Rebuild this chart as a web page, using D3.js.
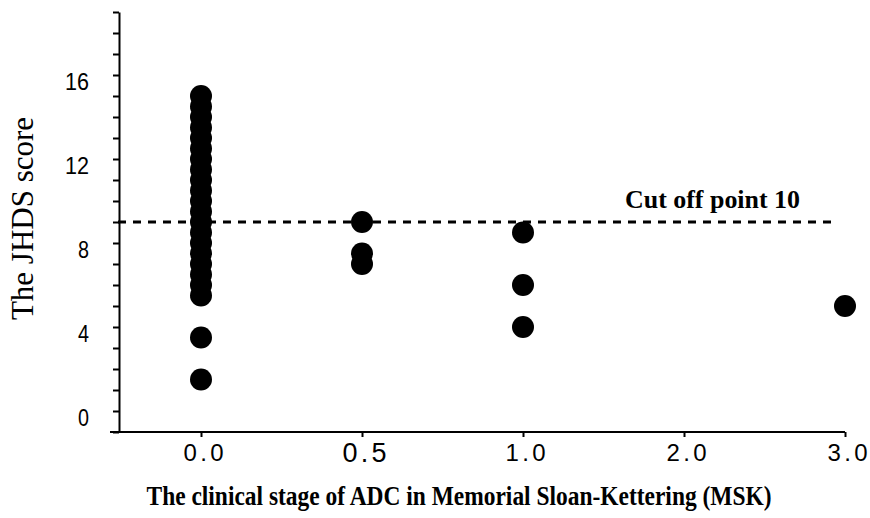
<!DOCTYPE html>
<html>
<head>
<meta charset="utf-8">
<script src="https://cdn.jsdelivr.net/npm/d3@7/dist/d3.min.js"></script>
<style>
  html, body { margin: 0; padding: 0; background: #fff; }
  svg { display: block; }
</style>
</head>
<body>
<svg id="chart" width="870" height="518"></svg>
<script>
// ---- data ----
const categories = ["0.0", "0.5", "1.0", "2.0", "3.0"];
const stage00Scores = [16, 15.5, 15, 14.5, 14, 13.5, 13, 12.5, 12, 11.5, 11, 10.5, 10, 9.5, 9, 8.5, 8, 7.5, 7, 6.5, 4.5, 2.5];
const stage05Scores = [10, 8.5, 8];
const stage10Scores = [9.5, 7, 5];
const stage20Scores = [];
const stage30Scores = [6];
const yTicks = [0, 1, 2, 3, 4, 5, 6, 7, 8, 9, 10, 11, 12, 13, 14, 15, 16, 17, 18, 19, 20];
const yTickLabels = [0, 4, 8, 12, 16];
const cutOff = 10;
const cutOffLabel = "Cut off point 10";
const xTitle = "The clinical stage of ADC in Memorial Sloan-Kettering (MSK)";
const yTitle = "The JHDS score";

const points = [];
[[categories[0], stage00Scores], [categories[1], stage05Scores], [categories[2], stage10Scores],
 [categories[3], stage20Scores], [categories[4], stage30Scores]].forEach(([c, arr]) => {
  arr.forEach(v => points.push({ stage: c, score: v }));
});

// ---- layout ----
const axisX = 119, axisBottom = 432, axisTop = 12, xAxisLeft = 110, xAxisRight = 845;
const svg = d3.select("#chart");
svg.append("rect").attr("width", 870).attr("height", 518).attr("fill", "#fff");

const x = d3.scalePoint().domain(categories).range([201, 845]);
const y = d3.scaleLinear().domain([0, 20]).range([axisBottom, axisTop]);

const tickFont = "'Liberation Sans Narrow', 'Liberation Sans', 'DejaVu Sans', sans-serif";

// Y axis
const yAxis = svg.append("g").attr("transform", `translate(${axisX},0)`)
  .call(d3.axisLeft(y).tickValues(yTicks).tickSize(6).tickSizeOuter(0)
    .tickFormat(d => yTickLabels.includes(d) ? d : ""));
yAxis.select(".domain").attr("stroke", "#000").attr("stroke-width", 2);
yAxis.selectAll(".tick line").attr("stroke", "#000").attr("stroke-width", 2);
yAxis.selectAll(".tick text")
  .attr("x", -30).attr("dy", "-0.27em")
  .attr("font-family", tickFont).attr("font-size", 24).attr("fill", "#000")
  .each(function(d) {
    const s = String(d);
    if (s.length) d3.select(this).attr("textLength", s.length === 1 ? 11 : 24).attr("lengthAdjust", "spacingAndGlyphs");
  });

// X axis
const xAxis = svg.append("g").attr("transform", `translate(0,${axisBottom})`)
  .call(d3.axisBottom(x).tickSize(5).tickSizeOuter(0));
xAxis.select(".domain").remove();
xAxis.append("line").attr("x1", xAxisLeft).attr("x2", xAxisRight).attr("y1", 0).attr("y2", 0)
  .attr("stroke", "#000").attr("stroke-width", 2);
xAxis.selectAll(".tick line").attr("stroke", "#000").attr("stroke-width", 2);
xAxis.selectAll(".tick text")
  .attr("y", d => d === "0.5" ? 30 : 28.5).attr("dy", 0).attr("dx", 2)
  .attr("font-family", tickFont).attr("font-size", d => d === "0.5" ? 27 : 24)
  .attr("fill", "#000")
  .attr("textLength", d => d === "0.5" ? 44 : 40).attr("lengthAdjust", "spacing");

// Cut off line
svg.append("line")
  .attr("x1", 118).attr("x2", 837)
  .attr("y1", y(cutOff)).attr("y2", y(cutOff))
  .attr("stroke", "#000").attr("stroke-width", 3).attr("stroke-dasharray", "8,7");
svg.append("text")
  .attr("x", 625).attr("y", y(cutOff) - 14)
  .attr("font-family", "'Liberation Serif', 'Times New Roman', serif")
  .attr("font-weight", "bold").attr("font-size", 25)
  .attr("textLength", 175).attr("lengthAdjust", "spacingAndGlyphs")
  .text(cutOffLabel);

// Points
svg.append("g").selectAll("circle").data(points).join("circle")
  .attr("cx", d => x(d.stage)).attr("cy", d => y(d.score))
  .attr("r", 11).attr("fill", "#000");

// Titles
svg.append("text")
  .attr("x", 459).attr("y", 505).attr("text-anchor", "middle")
  .attr("font-family", "'Liberation Serif', 'Times New Roman', serif")
  .attr("font-weight", "bold").attr("font-size", 27)
  .attr("textLength", 625).attr("lengthAdjust", "spacingAndGlyphs")
  .text(xTitle);
svg.append("text")
  .attr("transform", "translate(33,218.5) rotate(-90)")
  .attr("text-anchor", "middle")
  .attr("font-family", "'Liberation Serif', 'Times New Roman', serif")
  .attr("font-size", 31)
  .text(yTitle);
</script>
</body>
</html>
